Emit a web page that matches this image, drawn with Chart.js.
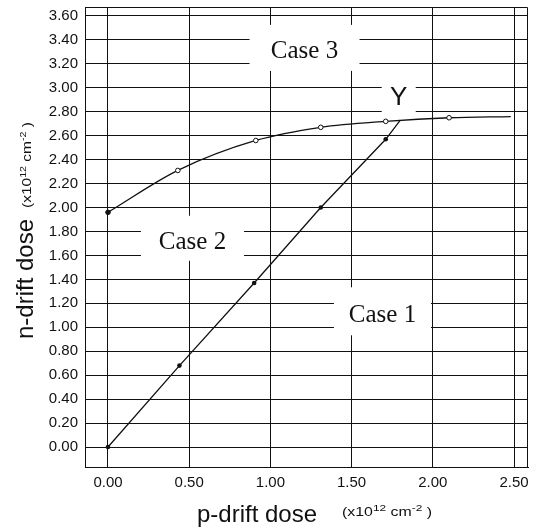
<!DOCTYPE html>
<html><head><meta charset="utf-8">
<script src="https://cdn.jsdelivr.net/npm/chart.js@4.4.1/dist/chart.umd.min.js"></script>
<style>html,body{margin:0;padding:0;background:#fff;} canvas{display:block;}</style>
</head><body>
<canvas id="c" width="533" height="530"></canvas>
<script>
// ---- data ----
const upperX = [0, 0.43, 0.91, 1.31, 1.71, 2.10, 2.48];
const upperY = [1.96, 2.31, 2.56, 2.67, 2.72, 2.75, 2.76];
const lowerX = [0, 0.44, 0.90, 1.31, 1.71, 1.80];
const lowerY = [0, 0.68, 1.37, 2.00, 2.57, 2.73];
const regionNames = ['Case 3', 'Case 2', 'Case 1', 'Y'];
const xTitle = 'p-drift dose';
const yTitle = 'n-drift dose';
const unitParts = ['(x10', '12', ' cm', '-2', ' )'];

// ---- label placement (data coords) and styling ----
const regionLayout = [
  {x: 1.21, y: 3.30, w: 110, h: 46, dy: -4, font: '25px "Liberation Serif"'},
  {x: 0.52, y: 1.71, w: 103, h: 45, dy: -4, font: '25px "Liberation Serif"'},
  {x: 1.69, y: 1.10, w: 97,  h: 48, dy: -4, font: '25px "Liberation Serif"'},
  {x: 1.79, y: 2.92, w: 34,  h: 42, dy: 0,  font: '26px "Liberation Sans"'}
];
const INK = '#111';

const decorPlugin = {
  id: 'decor',
  beforeDatasetsDraw(chart) {
    const {ctx, chartArea: a, scales: {x, y}} = chart;
    ctx.save();
    // top & right frame
    ctx.strokeStyle = INK; ctx.lineWidth = 1;
    ctx.beginPath();
    ctx.moveTo(Math.round(a.left) + 0.5, Math.round(a.top) + 0.5);
    ctx.lineTo(Math.round(a.right) - 0.5, Math.round(a.top) + 0.5);
    ctx.lineTo(Math.round(a.right) - 0.5, Math.round(a.bottom) + 0.5);
    ctx.stroke();
    // region labels with white boxes
    regionNames.forEach((name, i) => {
      const L = regionLayout[i];
      const px = x.getPixelForValue(L.x), py = y.getPixelForValue(L.y);
      ctx.fillStyle = '#fff';
      ctx.fillRect(px - L.w / 2, py - L.h / 2 + L.dy, L.w, L.h);
      ctx.fillStyle = INK;
      ctx.font = L.font;
      ctx.textAlign = 'center';
      ctx.textBaseline = 'middle';
      ctx.fillText(name, px, py);
    });
    ctx.restore();
  },
  afterDraw(chart) {
    const {ctx} = chart;
    ctx.save();
    ctx.fillStyle = INK;
    function segFont(i, size) {
      return (i % 2 === 1 ? Math.round(size * 0.72) : size) + 'px "Liberation Sans"';
    }
    function unitsWidth(size) {
      let w = 0;
      unitParts.forEach((p, i) => { ctx.font = segFont(i, size); w += ctx.measureText(p).width; });
      return w;
    }
    // draws unit text starting at local (0,0) baseline
    function drawUnits(size) {
      let cx = 0;
      unitParts.forEach((p, i) => {
        const sup = i % 2 === 1;
        ctx.font = segFont(i, size);
        ctx.textAlign = 'left';
        ctx.textBaseline = 'alphabetic';
        ctx.fillText(p, cx, sup ? -size * 0.42 : 0);
        cx += ctx.measureText(p).width;
      });
    }
    // x title
    ctx.font = '24px "Liberation Sans"';
    ctx.textAlign = 'left';
    ctx.textBaseline = 'alphabetic';
    ctx.fillText(xTitle, 197, 522);
    // x units (stretched along reading direction like the scan)
    ctx.save();
    ctx.translate(342, 516);
    const bw = unitsWidth(12);
    ctx.scale(90 / bw, 1);
    drawUnits(12);
    ctx.restore();
    // y title (rotated)
    ctx.save();
    ctx.translate(33, 279);
    ctx.rotate(-Math.PI / 2);
    ctx.font = '24px "Liberation Sans"';
    ctx.textAlign = 'center';
    ctx.textBaseline = 'alphabetic';
    ctx.fillText(yTitle, 0, 0);
    ctx.restore();
    // y units (rotated)
    ctx.save();
    ctx.translate(31, 208);
    ctx.rotate(-Math.PI / 2);
    const lw = unitsWidth(13);
    ctx.scale(86 / lw, 1);
    drawUnits(13);
    ctx.restore();
    ctx.restore();
  }
};

const tickFont = {family: '"Liberation Sans", Arial, sans-serif', size: 15};
function noPad(s) { s.paddingTop = 0; s.paddingBottom = 0; s.paddingLeft = 0; s.paddingRight = 0; }

new Chart(document.getElementById('c'), {
  type: 'scatter',
  data: {
    datasets: [
      {
        data: upperX.map((v, i) => ({x: v, y: upperY[i]})),
        showLine: true,
        borderColor: INK,
        borderWidth: 1.3,
        cubicInterpolationMode: 'monotone',
        pointRadius: c => (c.dataIndex === upperX.length - 1 ? 0 : 2.3),
        pointBackgroundColor: c => (c.dataIndex === 0 ? INK : '#fff'),
        pointBorderColor: INK,
        pointBorderWidth: 1
      },
      {
        data: lowerX.map((v, i) => ({x: v, y: lowerY[i]})),
        showLine: true,
        borderColor: INK,
        borderWidth: 1.3,
        tension: 0,
        pointRadius: c => (c.dataIndex === lowerX.length - 1 ? 0 : 2.3),
        pointBackgroundColor: INK,
        pointBorderColor: INK,
        pointBorderWidth: 0
      }
    ]
  },
  options: {
    responsive: false,
    animation: false,
    devicePixelRatio: 1,
    layout: {padding: {top: 7, right: 5, left: 0, bottom: 0}},
    plugins: {legend: {display: false}, tooltip: {enabled: false}},
    scales: {
      x: {
        type: 'linear', min: -0.1416, max: 2.586,
        afterFit: s => { s.height = 63; noPad(s); },
        grid: {color: INK, lineWidth: 1, drawTicks: false},
        border: {color: INK, width: 1},
        ticks: {stepSize: 0.5, includeBounds: false, padding: 7, color: INK, font: tickFont,
                maxRotation: 0, autoSkip: false, callback: v => Number(v).toFixed(2)}
      },
      y: {
        type: 'linear', min: -0.167, max: 3.675,
        afterFit: s => { s.width = 85; noPad(s); },
        grid: {color: INK, lineWidth: 1, drawTicks: false},
        border: {color: INK, width: 1},
        ticks: {stepSize: 0.2, includeBounds: false, padding: 7, color: INK, font: tickFont,
                autoSkip: false, callback: v => Number(v).toFixed(2)}
      }
    }
  },
  plugins: [decorPlugin]
});
</script>
</body></html>
